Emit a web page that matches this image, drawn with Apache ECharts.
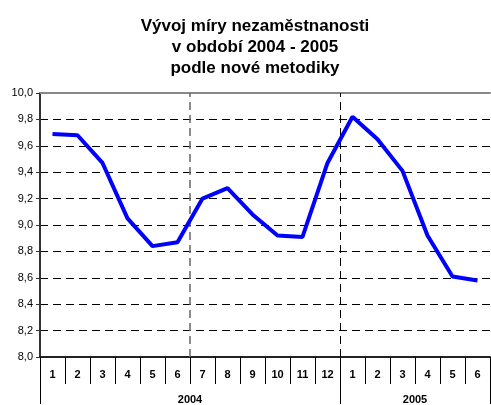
<!DOCTYPE html>
<html>
<head>
<meta charset="utf-8">
<script src="https://cdn.jsdelivr.net/npm/echarts@6/dist/echarts.min.js"></script>
<style>
  html, body { margin: 0; padding: 0; background: #fff; }
  #chart { width: 491px; height: 405px; }
</style>
</head>
<body>
<div id="chart"></div>
<script>
// měsíce 2004 (1-12) a 2005 (1-6)
const months = ['1', '2', '3', '4', '5', '6', '7', '8', '9', '10', '11', '12', '1', '2', '3', '4', '5', '6']
const rates = [9.69, 9.68, 9.47, 9.05, 8.84, 8.87, 9.20, 9.28, 9.08, 8.92, 8.91, 9.47, 9.82, 9.65, 9.41, 8.92, 8.61, 8.58]
const years = ['2004', '2005']
const yearCenters = [6, 15]
const yearBounds = [0, 12, 18]

const myChart = echarts.init(document.getElementById('chart'))
const fontFamily = 'Liberation Sans, Arial, sans-serif'

const option = {
  animation: false,
  title: {
    text: 'Vývoj míry nezaměstnanosti\nv období 2004 - 2005\npodle nové metodiky',
    left: 250,
    top: 11,
    textAlign: 'center',
    textStyle: {
      fontFamily: fontFamily,
      fontSize: 17,
      fontWeight: 'bold',
      color: '#000',
      lineHeight: 21
    }
  },
  grid: {
    left: 40,
    right: 1,
    top: 93,
    bottom: 47
  },
  xAxis: [
    {
      type: 'category',
      data: months,
      boundaryGap: true,
      axisLine: { lineStyle: { color: '#222', width: 2 } },
      axisTick: { show: true, alignWithLabel: false, interval: 0, length: 27, lineStyle: { color: '#000', width: 1 } },
      axisLabel: {
        interval: 0,
        margin: 12,
        color: '#000',
        fontFamily: fontFamily,
        fontSize: 11,
        fontWeight: 'bold'
      },
      splitLine: { show: false }
    },
    {
      type: 'value',
      min: 0,
      max: 18,
      position: 'bottom',
      axisLine: { show: false },
      axisTick: {
        show: true,
        customValues: yearBounds,
        length: 47,
        lineStyle: { color: '#000' }
      },
      axisLabel: {
        customValues: yearCenters,
        margin: 37,
        color: '#000',
        fontFamily: fontFamily,
        fontSize: 11,
        fontWeight: 'bold',
        formatter: function (v) {
          const i = yearCenters.indexOf(v)
          return i >= 0 ? years[i] : ''
        }
      },
      splitLine: { show: false }
    },
    {
      type: 'category',
      data: months,
      position: 'top',
      axisLine: { lineStyle: { color: '#888', width: 2 } },
      axisTick: { show: false },
      axisLabel: { show: false }
    }
  ],
  yAxis: {
    type: 'value',
    min: 8,
    max: 10,
    interval: 0.2,
    axisLine: { show: true, lineStyle: { color: '#333', width: 2 } },
    axisTick: { show: true, length: 4, lineStyle: { color: '#333' } },
    axisLabel: {
      margin: 7,
      color: '#000',
      fontFamily: fontFamily,
      fontSize: 11,
      formatter: function (v) {
        return v.toFixed(1).replace('.', ',')
      }
    },
    splitLine: {
      lineStyle: { color: '#000', type: [8, 5], width: 1 }
    }
  },
  series: [
    {
      name: 'míra nezaměstnanosti',
      type: 'line',
      data: rates,
      symbol: 'none',
      lineStyle: { color: '#0000ff', width: 4 },
      z: 5
    },
    {
      // svislé přerušované čáry (pololetí, rok)
      type: 'line',
      xAxisIndex: 1,
      data: [],
      silent: true,
      markLine: {
        symbol: 'none',
        silent: true,
        label: { show: false },
        data: [
          { xAxis: 6, lineStyle: { color: '#666', type: [8, 5], width: 1.5 } },
          { xAxis: 12, lineStyle: { color: '#000', type: [8, 5], width: 1 } }
        ]
      }
    }
  ]
}

myChart.setOption(option, true)
</script>
</body>
</html>
